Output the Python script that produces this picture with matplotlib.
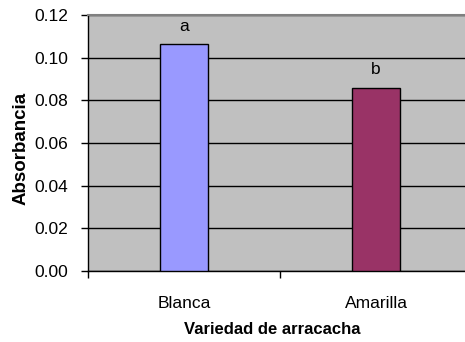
import matplotlib.pyplot as plt

plt.rcParams['font.family'] = ['Liberation Sans', 'DejaVu Sans']

variedades = ['Blanca', 'Amarilla']
absorbancia = [0.1063, 0.0858]
letras = ['a', 'b']
colores = ['#9999FF', '#993366']

fig = plt.figure(figsize=(4.65, 3.42), dpi=100)
# plot area runs slightly past the right edge, as in the original
ax = fig.add_axes([88 / 465, 1 - 271 / 342, 384 / 465, 256 / 342])
ax.set_facecolor('#C0C0C0')

x = list(range(len(variedades)))
ax.bar(x, absorbancia, width=0.25, color=colores, edgecolor='black', linewidth=1, zorder=3)
for xi, v, l in zip(x, absorbancia, letras):
    ax.text(xi, v + 0.005, l, ha='center', va='bottom', fontsize=12.5)

ax.set_xlim(-0.5, 1.5)
ax.set_ylim(0, 0.12)
ax.set_yticks([0, 0.02, 0.04, 0.06, 0.08, 0.10, 0.12])
ax.set_yticklabels(['%.2f' % t for t in ax.get_yticks()], fontsize=12.5)
ax.yaxis.grid(True, color='black', linewidth=1, zorder=1)
ax.set_axisbelow(True)

ax.set_xticks(x)
ax.set_xticklabels(variedades, fontsize=12.5)
ax.set_xticks([-0.5, 0.5, 1.5], minor=True)
ax.tick_params(axis='x', which='major', length=0, pad=18)
ax.tick_params(axis='x', which='minor', length=5, width=1, direction='out')
ax.tick_params(axis='y', length=5, width=1, direction='out', pad=9)

ax.spines['right'].set_visible(False)
ax.spines['top'].set_color('#808080')
ax.spines['top'].set_linewidth(1.5)
ax.spines['left'].set_linewidth(1)
ax.spines['bottom'].set_linewidth(1)

ax.set_ylabel('Absorbancia', fontsize=13.5, fontweight='bold')
ax.yaxis.set_label_coords(-0.151, 0.48)
ax.set_xlabel('Variedad de arracacha', fontsize=12, fontweight='bold')
ax.xaxis.set_label_coords(0.4805, -0.20)

fig.savefig('out.png', dpi=100)
